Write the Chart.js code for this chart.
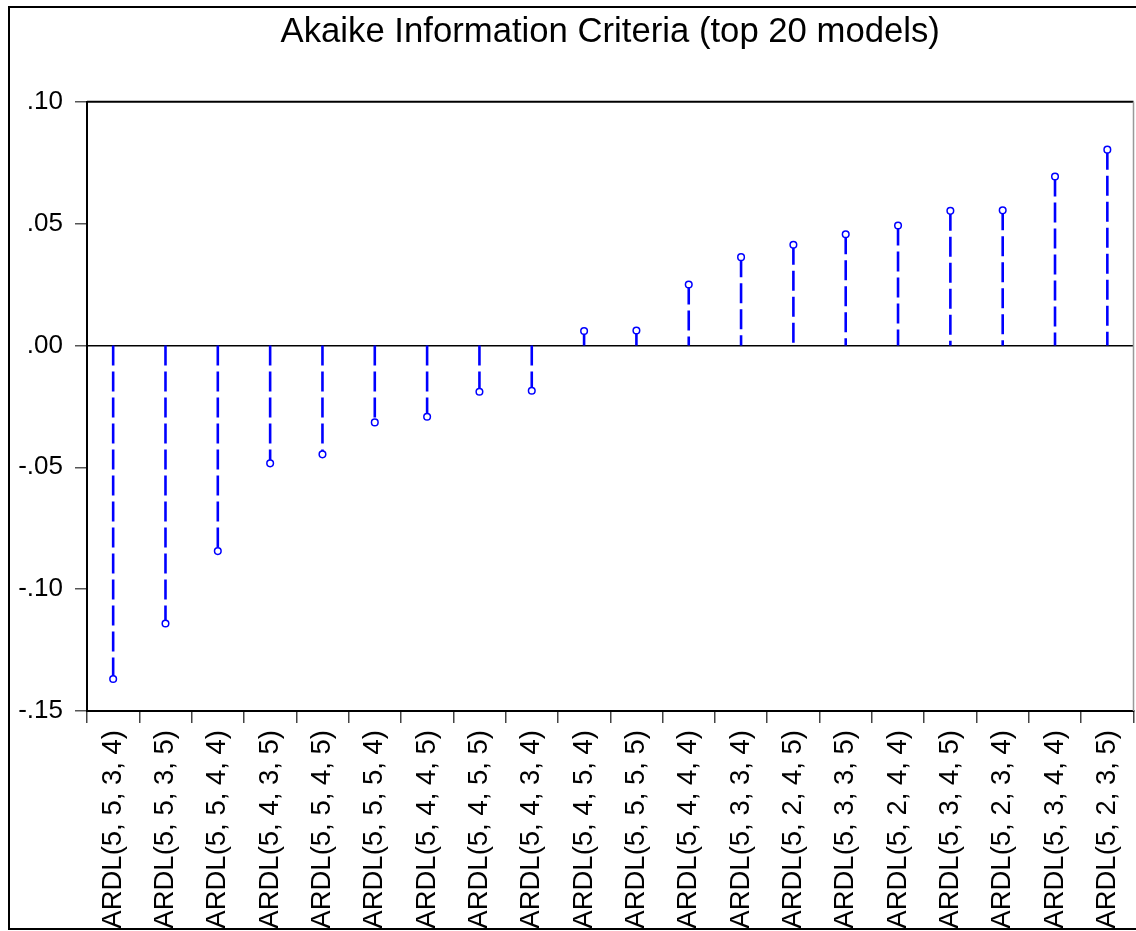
<!DOCTYPE html>
<html>
<head>
<meta charset="utf-8">
<title>Akaike Information Criteria (top 20 models)</title>
<script src="https://cdn.jsdelivr.net/npm/chart.js@4.4.1/dist/chart.umd.min.js"></script>
<style>
    html, body { margin: 0; padding: 0; background: #fff; overflow: hidden; }
    #wrap { position: relative; width: 1136px; height: 931px; overflow: hidden; }
    #aic { display: block; }
    #frame {
        position: absolute; left: 8px; top: 6px; width: 1140px; height: 924px;
        border: 2px solid #000; box-sizing: border-box; pointer-events: none;
    }
</style>
</head>
<body>
<div id="wrap">
    <canvas id="aic" width="1139" height="931"></canvas>
    <div id="frame"></div>
</div>
<script>
// Models, ordered as in the picture
const modelLabels = [
    'ARDL(5, 5, 3, 4)', 'ARDL(5, 5, 3, 5)', 'ARDL(5, 5, 4, 4)', 'ARDL(5, 4, 3, 5)',
    'ARDL(5, 5, 4, 5)', 'ARDL(5, 5, 5, 4)', 'ARDL(5, 4, 4, 5)', 'ARDL(5, 4, 5, 5)',
    'ARDL(5, 4, 3, 4)', 'ARDL(5, 4, 5, 4)', 'ARDL(5, 5, 5, 5)', 'ARDL(5, 4, 4, 4)',
    'ARDL(5, 3, 3, 4)', 'ARDL(5, 2, 4, 5)', 'ARDL(5, 3, 3, 5)', 'ARDL(5, 2, 4, 4)',
    'ARDL(5, 3, 4, 5)', 'ARDL(5, 2, 3, 4)', 'ARDL(5, 3, 4, 4)', 'ARDL(5, 2, 3, 5)'
];

// Akaike values
const aicValues = [
    -0.1369, -0.1141, -0.0844, -0.0484, -0.0447, -0.0316, -0.0293, -0.0190,
    -0.0186, 0.0059, 0.0061, 0.0250, 0.0362, 0.0413, 0.0456, 0.0492,
    0.0552, 0.0554, 0.0693, 0.0803
];

// y axis range and step
const yMin = -0.15;
const yMax = 0.10;
const yStep = 0.05;

// Each stem goes from the higher end down to the lower end, then a gap
const stemPoints = [];
aicValues.forEach((v, i) => {
    stemPoints.push({ x: modelLabels[i], y: Math.max(v, 0) });
    stemPoints.push({ x: modelLabels[i], y: Math.min(v, 0) });
    stemPoints.push({ x: modelLabels[i], y: null });
});

function formatTick(value) {
    if (Math.abs(value) < 1e-9) return '.00';
    const s = Math.abs(value).toFixed(2).replace(/^0/, '');
    return value < 0 ? '-' + s : s;
}

// top and right edges of the plot box
const plotFrame = {
    id: 'plotFrame',
    afterDraw(chart) {
        const { ctx, chartArea } = chart;
        ctx.save();
        ctx.strokeStyle = '#000';
        ctx.lineWidth = 2;
        ctx.beginPath();
        ctx.moveTo(chartArea.left, chartArea.top);
        ctx.lineTo(chartArea.right, chartArea.top);
        ctx.stroke();
        ctx.strokeStyle = '#999';
        ctx.lineWidth = 1.5;
        ctx.beginPath();
        ctx.moveTo(chartArea.right, chartArea.top);
        ctx.lineTo(chartArea.right, chartArea.bottom);
        ctx.stroke();
        ctx.restore();
    }
};

Chart.defaults.font.family = '"Liberation Sans", Arial, sans-serif';
Chart.defaults.color = '#000';

new Chart(document.getElementById('aic'), {
    type: 'line',
    data: {
        labels: modelLabels,
        datasets: [
            {
                label: 'AIC',
                data: aicValues,
                showLine: false,
                pointRadius: 3.3,
                pointBorderWidth: 1.5,
                pointBorderColor: '#0000ff',
                pointBackgroundColor: '#ffffff',
                order: 0
            },
            {
                label: 'stems',
                data: stemPoints,
                borderColor: '#0000ff',
                borderWidth: 2.6,
                borderDash: [20, 6],
                pointRadius: 0,
                spanGaps: false,
                tension: 0,
                order: 1
            }
        ]
    },
    options: {
        responsive: false,
        animation: false,
        events: [],
        layout: { padding: 0 },
        plugins: {
            legend: { display: false },
            tooltip: { enabled: false },
            title: {
                display: true,
                text: 'Akaike Information Criteria (top 20 models)',
                fullSize: false,
                font: { size: 34.7, weight: 'normal' },
                padding: { top: 12, bottom: 48 }
            }
        },
        scales: {
            x: {
                offset: true,
                afterFit(scale) {
                    scale.height = 220;
                    scale.paddingLeft = 0;
                    scale.paddingRight = 0;
                },
                grid: {
                    offset: true,
                    drawOnChartArea: false,
                    tickLength: 12,
                    tickColor: '#444',
                    lineWidth: 1.5
                },
                border: { color: '#000', width: 2 },
                ticks: {
                    autoSkip: false,
                    minRotation: 90,
                    maxRotation: 90,
                    padding: 7,
                    font: { size: 27.5 }
                }
            },
            y: {
                min: yMin,
                max: yMax,
                afterFit(scale) { scale.width = 87; },
                grid: {
                    drawOnChartArea: true,
                    tickLength: 12,
                    tickColor: '#555',
                    lineWidth: 1.5,
                    color: (ctx) => (ctx.tick && Math.abs(ctx.tick.value) < 1e-9) ? '#000' : 'rgba(0,0,0,0)'
                },
                border: { color: '#000', width: 2 },
                ticks: {
                    stepSize: yStep,
                    padding: 12,
                    font: { size: 26 },
                    callback: (value) => formatTick(value)
                }
            }
        }
    },
    plugins: [plotFrame]
});
</script>
</body>
</html>
